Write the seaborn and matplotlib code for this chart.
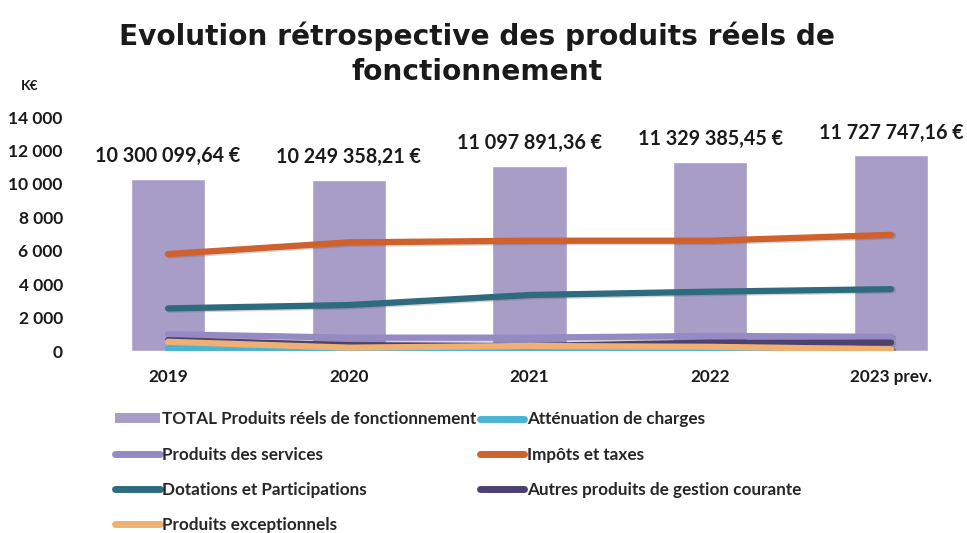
import matplotlib
matplotlib.use("Agg")
import matplotlib.pyplot as plt
from matplotlib.lines import Line2D
from matplotlib.patches import Patch
from matplotlib.ticker import FuncFormatter
import seaborn as sns
import pandas as pd

years = ["2019", "2020", "2021", "2022", "2023 prev."]
total = [10300.09964, 10249.35821, 11097.89136, 11329.38545, 11727.74716]
total_labels = ["10 300 099,64 €", "10 249 358,21 €", "11 097 891,36 €",
                "11 329 385,45 €", "11 727 747,16 €"]
attenuation = [150, 100, 80, 80, 80]
services = [1000, 800, 800, 900, 850]
impots = [5800, 6500, 6600, 6600, 6950]
dotations = [2550, 2750, 3350, 3550, 3700]
autres = [650, 350, 300, 500, 500]
exceptionnels = [550, 200, 300, 250, 100]

series_names = ["Atténuation de charges", "Produits des services", "Impôts et taxes",
                "Dotations et Participations", "Autres produits de gestion courante",
                "Produits exceptionnels"]
series_values = [attenuation, services, impots, dotations, autres, exceptionnels]
series_colors = ["#4BB3D3", "#958AC4", "#D0602C", "#2F6B7E", "#4D4170", "#EFB173"]
bar_name = "TOTAL Produits réels de fonctionnement"
bar_color = "#A89DC6"

sns.set_theme(style="white")
plt.rcParams["font.family"] = ["Lato", "DejaVu Sans"]
plt.rcParams["font.weight"] = "bold"

fig = plt.figure(figsize=(9.67, 5.33), dpi=100)
W, H = 967, 533
ax_left, ax_right = 110, 945
ax_bottom, ax_top = 351, 117
ax = fig.add_axes([ax_left / W, 1 - ax_bottom / H, (ax_right - ax_left) / W, (ax_bottom - ax_top) / H])

df_bar = pd.DataFrame({"year": years, "value": total})
sns.barplot(data=df_bar, x="year", y="value", order=years, color=bar_color,
            width=0.41, saturation=1, ax=ax, zorder=1)

rows = []
for name, vals in zip(series_names, series_values):
    for i, v in enumerate(vals):
        rows.append({"x": i, "value": v, "serie": name})
df_lines = pd.DataFrame(rows)
# shadow
for name, col in zip(series_names, series_colors):
    sub = df_lines[df_lines.serie == name]
    ax.plot(sub["x"] + 0.01, sub["value"] - 60, color="#555555", alpha=0.25, lw=5,
            solid_capstyle="round", zorder=2)
sns.lineplot(data=df_lines, x="x", y="value", hue="serie", hue_order=series_names,
             palette=series_colors, linewidth=4.5, ax=ax, legend=False, zorder=3,
             sort=True)
for ln in ax.get_lines():
    ln.set_solid_capstyle("round")

for i, (v, lab) in enumerate(zip(total, total_labels)):
    ax.annotate(lab, (i, v), xytext=(0, 9), textcoords="offset points",
                ha="center", va="bottom", fontsize=14.2, fontweight="bold", color="#1a1a1a")

ax.set_xlim((ax_left - 168) / 180.75, (ax_right - 168) / 180.75)
ax.set_ylim(0, 14000)
ax.set_yticks(range(0, 14001, 2000))
ax.yaxis.set_major_formatter(FuncFormatter(lambda v, p: f"{int(v):,}".replace(",", " ")))
ax.tick_params(axis="y", length=0, pad=34, labelsize=12.5)
ax.tick_params(axis="x", length=0, pad=13, labelsize=12.3)
for t in ax.get_xticklabels() + ax.get_yticklabels():
    t.set_fontweight("bold")
    t.set_color("#1a1a1a")
ax.set_xlabel("")
ax.set_ylabel("")
for s in ax.spines.values():
    s.set_visible(False)

fig.text(477 / W, 1 - 54 / H, "Evolution rétrospective des produits réels de\nfonctionnement",
         ha="center", va="center", fontsize=20.2, fontweight="bold", color="#1a1a1a",
         linespacing=1.3, family=["DejaVu Sans"])
fig.text(30 / W, 1 - 86 / H, "K€", ha="center", va="center", fontsize=10,
         fontweight="bold", color="#1a1a1a")

handles = [Patch(facecolor=bar_color, edgecolor="none")]
labels = [bar_name]
order_col1 = [1, 3, 5]
order_col2 = [0, 2, 4]
for k in order_col1:
    handles.append(Line2D([0], [0], color=series_colors[k], lw=5, solid_capstyle="round"))
    labels.append(series_names[k])
for k in order_col2:
    handles.append(Line2D([0], [0], color=series_colors[k], lw=5, solid_capstyle="round"))
    labels.append(series_names[k])
fig.legend(handles, labels, ncol=2, loc="upper left", bbox_to_anchor=(100 / W, 1 - 396 / H),
           frameon=False, handlelength=2.6, handletextpad=0.15, handleheight=0.5,
           columnspacing=0.2, labelspacing=1.12, prop={"weight": "bold", "size": 12.3})

fig.savefig("out.png", dpi=100)
